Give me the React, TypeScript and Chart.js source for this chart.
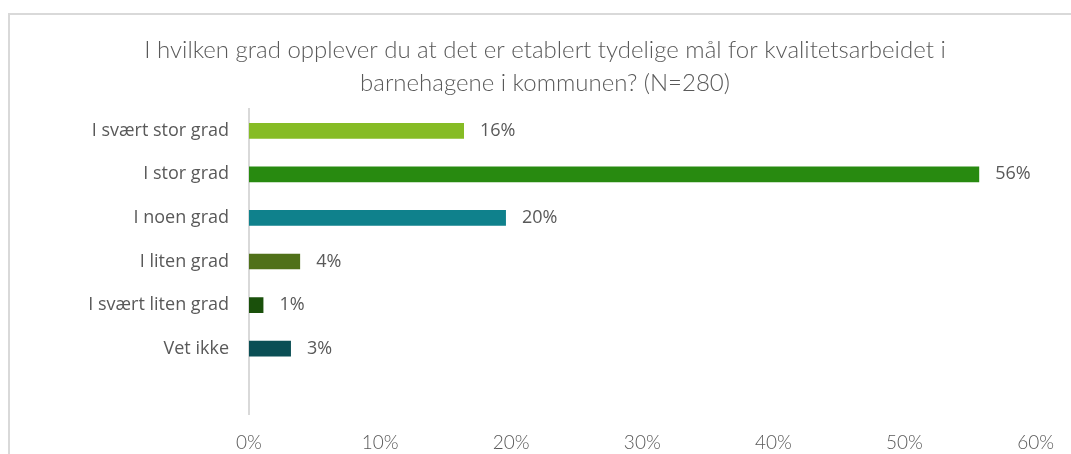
import React, { useEffect, useRef } from "react";
import { Chart, registerables } from "chart.js";

Chart.register(...registerables);

const titleLines = [
  "I hvilken grad opplever du at det er etablert tydelige mål for kvalitetsarbeidet i",
  "barnehagene i kommunen? (N=280)",
];
const categories = ["I svært stor grad", "I stor grad", "I noen grad", "I liten grad", "I svært liten grad", "Vet ikke", ""];
const values: (number | null)[] = [16.4, 55.7, 19.6, 3.9, 1.1, 3.2, null];
const barColors = ["#86bc25", "#288a10", "#0f818c", "#50711a", "#1a500b", "#0b4f55", "#ffffff"];
const xTicks = [0, 10, 20, 30, 40, 50, 60];

const TEXT = "#595959";

const valueLabels = {
  id: "valueLabels",
  afterDatasetsDraw(chart: any) {
    const ctx = chart.ctx;
    const meta = chart.getDatasetMeta(0);
    ctx.save();
    ctx.font = "18px 'Open Sans'";
    ctx.fillStyle = TEXT;
    ctx.textAlign = "left";
    ctx.textBaseline = "middle";
    meta.data.forEach((bar: any, i: number) => {
      const v = values[i];
      if (v === null || v === undefined) return;
      ctx.fillText(Math.round(v) + "%", bar.x + 16, bar.y);
    });
    ctx.restore();
  },
};

export default function App() {
  const ref = useRef<HTMLCanvasElement>(null);
  useEffect(() => {
    if (!ref.current) return;
    const chart = new Chart(ref.current, {
      type: "bar",
      data: {
        labels: categories,
        datasets: [
          {
            data: values,
            backgroundColor: barColors,
            categoryPercentage: 1,
            barPercentage: 0.36,
          },
        ],
      },
      plugins: [valueLabels],
      options: {
        indexAxis: "y",
        animation: false,
        responsive: false,
        layout: { padding: { left: 54, right: 35, top: 0, bottom: 0 } },
        plugins: {
          legend: { display: false },
          tooltip: { enabled: false },
          title: {
            display: true,
            text: titleLines,
            color: TEXT,
            font: { family: "Lato", size: 24, weight: "300" as any, lineHeight: "33px" as any },
            padding: { top: 34, bottom: 9 },
          },
        },
        scales: {
          x: {
            min: 0,
            max: 60,
            afterBuildTicks(scale: any) {
              scale.ticks = xTicks.map((v) => ({ value: v }));
            },
            afterFit(scale: any) {
              scale.height = 40;
            },
            grid: { display: false, drawTicks: false },
            border: { display: false },
            ticks: {
              padding: 17,
              color: TEXT,
              font: { family: "Lato", size: 19, weight: "300" as any },
              callback: (v: any) => v + "%",
            },
          },
          y: {
            afterFit(scale: any) {
              scale.width = 195;
            },
            grid: { display: false, drawTicks: false },
            border: { display: true, color: "#d9d9d9", width: 2 },
            ticks: {
              padding: 20,
              color: TEXT,
              font: { family: "'Open Sans'", size: 18 },
            },
          },
        },
      },
    });
    return () => chart.destroy();
  }, []);

  return (
    <div style={{ position: "fixed", left: 0, top: 0, width: 1071, height: 454, background: "#fff", overflow: "hidden" }}>
      <div
        style={{
          position: "absolute",
          left: 8,
          top: 13,
          right: 0,
          bottom: 0,
          borderLeft: "2px solid #d9d9d9",
          borderTop: "2px solid #d9d9d9",
        }}
      />
      <canvas ref={ref} width={1071} height={454} style={{ position: "absolute", left: 0, top: 0 }} />
    </div>
  );
}
